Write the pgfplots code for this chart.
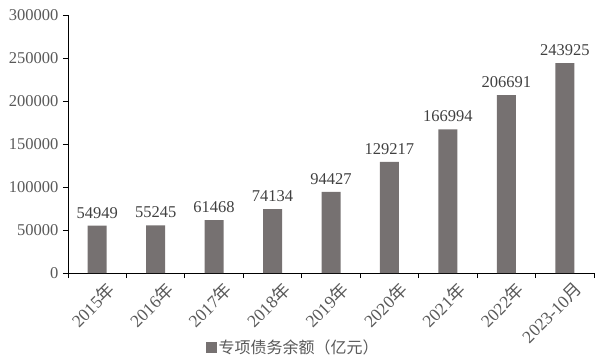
\documentclass[border=0pt]{standalone}
\usepackage{fontspec}
\setmainfont{Liberation Serif}
\newfontfamily\cjk{Noto Sans CJK SC}
\usepackage{pgfplots}
\pgfplotsset{compat=1.18}
\definecolor{barc}{HTML}{767171}
\definecolor{tickc}{HTML}{595959}
\definecolor{labc}{HTML}{404040}
\begin{document}
\begin{tikzpicture}
\useasboundingbox (0,0) rectangle (596pt,361pt);
\begin{axis}[
 at={(68pt,88pt)}, anchor=south west,
 scale only axis, width=526pt, height=258pt,
 xmin=-0.5, xmax=8.5, ymin=0, ymax=300000,
 axis lines*=left,
 axis line style={black, line width=0.8pt},
 tick align=outside,
 major tick length=5pt,
 tick style={black, line width=0.8pt},
 ytick={0,50000,...,300000},
 scaled y ticks=false,
 /pgf/number format/.cd, fixed, 1000 sep={}, assume math mode=true, /pgfplots/.cd,
 yticklabel style={font=\fontsize{16.5}{18}\selectfont, color=tickc, xshift=-1pt},
 xtick={-0.5,0.5,...,8.5},
 xticklabels={},
 extra x ticks={0,1,2,3,4,5,6,7,8},
 extra x tick labels={2015{\cjk 年},2016{\cjk 年},2017{\cjk 年},2018{\cjk 年},2019{\cjk 年},2020{\cjk 年},2021{\cjk 年},2022{\cjk 年},2023-10{\cjk 月}},
 extra x tick style={major tick length=0pt, tick label style={rotate=45, anchor=north east, font=\fontsize{17.5}{18}\selectfont, color=tickc, yshift=-8pt, xshift=4pt}},
 ybar, bar width=19pt,
 nodes near coords,
 every node near coord/.append style={font=\fontsize{16.5}{18}\selectfont, color=labc, yshift=4pt, /pgf/number format/.cd, fixed, 1000 sep={}},
 legend style={at={(0.428,-0.29)}, anchor=center, draw=none, font=\cjk\fontsize{16}{18}\selectfont, text=tickc},
 legend image code/.code={\fill[barc] (0pt,-5.5pt) rectangle (11pt,5.5pt);},
 clip=false,
]
\addplot[fill=barc, draw=none] coordinates {(0,54949) (1,55245) (2,61468) (3,74134) (4,94427) (5,129217) (6,166994) (7,206691) (8,243925)};
\addlegendentry{专项债务余额（亿元）}
\end{axis}
\end{tikzpicture}
\end{document}
